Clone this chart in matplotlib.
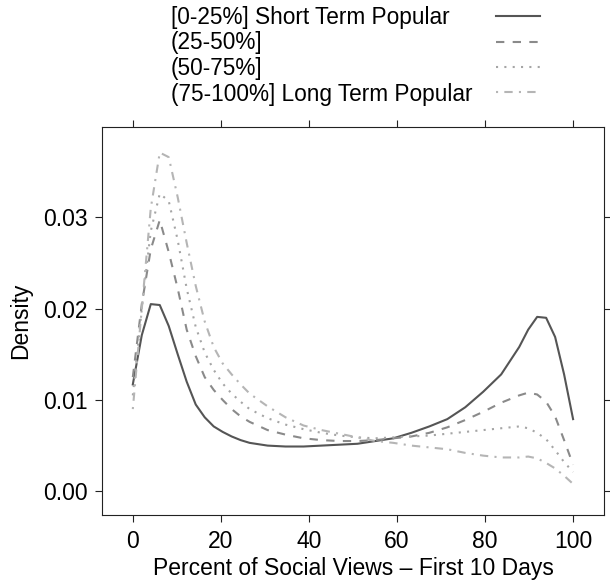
import numpy as np
import matplotlib.pyplot as plt
from matplotlib.lines import Line2D

plt.rcParams['font.family'] = ['Liberation Sans', 'DejaVu Sans']

# 横轴: 前10天社交浏览量百分比
pct = [0, 2.04, 4.08, 6.12, 8.16, 10.2, 12.24, 14.29, 16.33, 18.37,
       20.41, 22.45, 24.49, 26.53, 30.61, 34.69, 38.78, 42.86, 46.94, 51.02,
       55.1, 59.18, 63.27, 67.35, 71.43, 75.51, 79.59, 83.67, 87.76, 89.8,
       91.84, 93.88, 95.92, 97.96, 100]

dens_q1 = [0.0117, 0.0171, 0.0205, 0.0204, 0.0181, 0.0150, 0.0120, 0.0095, 0.0081, 0.0071,
           0.0065, 0.0060, 0.0056, 0.0053, 0.0050, 0.0049, 0.0049, 0.0050, 0.0051, 0.0052,
           0.0055, 0.0058, 0.0064, 0.0071, 0.0079, 0.0092, 0.0109, 0.0128, 0.0158, 0.0177,
           0.0191, 0.0190, 0.0169, 0.0128, 0.0079]
dens_q2 = [0.0125, 0.0205, 0.0265, 0.0297, 0.0262, 0.0222, 0.0177, 0.0148, 0.0125, 0.0111,
           0.0100, 0.0090, 0.0082, 0.0076, 0.0067, 0.0062, 0.0058, 0.0056, 0.0055, 0.0055,
           0.0056, 0.0058, 0.0060, 0.0064, 0.0070, 0.0078, 0.0087, 0.0097, 0.0105, 0.0108,
           0.0106, 0.0098, 0.0082, 0.0056, 0.0029]
dens_q3 = [0.0105, 0.0200, 0.0285, 0.0326, 0.0318, 0.0275, 0.0222, 0.0180, 0.0152, 0.0133,
           0.0118, 0.0107, 0.0098, 0.0090, 0.0080, 0.0073, 0.0068, 0.0064, 0.0061, 0.0059,
           0.0058, 0.0059, 0.0060, 0.0061, 0.0063, 0.0065, 0.0067, 0.0069, 0.0071, 0.0069,
           0.0064, 0.0057, 0.0045, 0.0032, 0.0021]
dens_q4 = [0.0090, 0.0200, 0.0310, 0.0371, 0.0366, 0.0322, 0.0272, 0.0225, 0.0186, 0.0158,
           0.0140, 0.0128, 0.0117, 0.0107, 0.0093, 0.0081, 0.0072, 0.0067, 0.0063, 0.0059,
           0.0055, 0.0053, 0.0050, 0.0048, 0.0046, 0.0042, 0.0039, 0.0037, 0.0037, 0.0038,
           0.0036, 0.0031, 0.0025, 0.0017, 0.0008]

labels = ['[0-25%] Short Term Popular', '(25-50%]', '(50-75%]',
          '(75-100%] Long Term Popular']
colors = ['#555555', '#8a8a8a', '#a5a5a5', '#b5b5b5']
styles = ['-', (0, (4, 4)), (0, (1, 3)), (0, (1, 3, 4, 3))]

fig = plt.figure(figsize=(6.1, 5.84), dpi=100)
ax = fig.add_axes([0.1672, 0.1182, 0.8228, 0.6643])

for y, c, ls in zip([dens_q1, dens_q2, dens_q3, dens_q4], colors, styles):
    ax.plot(pct, y, color=c, linestyle=ls, lw=1.5)

ax.set_xlim(-7, 107)
ax.set_ylim(-0.0026, 0.0399)
ax.set_xticks([0, 20, 40, 60, 80, 100])
ax.set_yticks([0.00, 0.01, 0.02, 0.03])
ax.set_yticklabels(['0.00', '0.01', '0.02', '0.03'])
ax.tick_params(direction='out', length=5, width=0.8, pad=5, labelsize=16.5,
               top=True, right=True, labeltop=False, labelright=False,
               color='#222222')
ax.tick_params(axis='x', pad=6)
for s in ax.spines.values():
    s.set_linewidth(0.8)
    s.set_color('#222222')

ax.set_xlabel('Percent of Social Views – First 10 Days', fontsize=16.5, labelpad=3)
ax.set_ylabel('Density', fontsize=16.5, labelpad=8)

# 图例 (手动放置)
text_base = [24, 49.5, 75, 100.5]
for lab, c, ls, yb in zip(labels, colors, styles, text_base):
    fig.text(171 / 610, 1 - yb / 584, lab, fontsize=16.3, va='baseline', ha='left')
    yl = 1 - (yb - 8) / 584
    fig.add_artist(Line2D([496 / 610, 540 / 610], [yl, yl], color=c,
                          linestyle=ls, lw=1.5, transform=fig.transFigure))

plt.savefig('out.png', dpi=100)
plt.close()
